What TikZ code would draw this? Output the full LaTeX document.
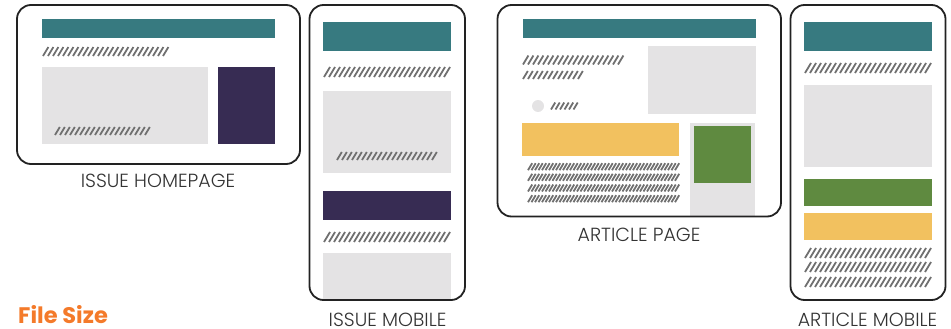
\documentclass[tikz,border=0pt]{standalone}
\usepackage{fontspec}
\setmainfont{Poppins}
\newfontfamily\labfont{Poppins Light}
\definecolor{teal1}{HTML}{377A80}
\definecolor{purp}{HTML}{372C53}
\definecolor{lgray}{HTML}{E4E3E4}
\definecolor{yel}{HTML}{F2C15F}
\definecolor{grn}{HTML}{5F8A40}
\definecolor{orng}{HTML}{F47A2A}
\definecolor{hatchc}{HTML}{707070}
\definecolor{framec}{HTML}{222222}
\definecolor{labc}{HTML}{333333}
\newcommand{\hatchrow}[5][5]{% [spacing] x1, x2, yc, h
  \pgfmathsetmacro{\hn}{int(floor((#3-#2)/#1))}
  \pgfmathsetmacro{\hyb}{#4+#5/2}
  \pgfmathsetmacro{\hyt}{#4-#5/2}
  \pgfmathsetmacro{\hdx}{0.6*#5}
  \foreach \hi in {0,...,\hn}{
    \pgfmathsetmacro{\hx}{#2+#1*\hi}
    \draw[hatchc, line width=1.8pt] (\hx,\hyb) -- (\hx+\hdx,\hyt);
  }}
\begin{document}
\begin{tikzpicture}[x=1pt,y=-1pt,
  frame/.style={draw=framec, line width=1.8pt, rounded corners=14pt},
  lab/.style={text=labc, font=\labfont\fontsize{19}{21}\selectfont, inner sep=0pt, anchor=base, text height=13pt, text depth=0pt}]
\useasboundingbox (0,0) rectangle (951,329);
% ---------- Issue homepage ----------
\fill[teal1] (42,19) rectangle (275,38);
\hatchrow{43}{163}{51.5}{9}
\fill[lgray] (42,67) rectangle (208,144);
\hatchrow{55}{149}{131}{8}
\fill[purp] (218,67) rectangle (275,144);
\draw[frame] (17,5) rectangle (300,164);
\node[lab] (lhome) at (158,187.3) {ISSUE HOMEPAGE};
% ---------- Issue mobile ----------
\fill[teal1] (323,22) rectangle (451,51);
\hatchrow{324}{445}{72}{10}
\fill[lgray] (323,91) rectangle (451,173);
\hatchrow{337}{432}{156}{8}
\fill[purp] (323,191) rectangle (451,220);
\hatchrow{324}{445}{237}{10}
\fill[lgray] (323,253) rectangle (451,299);
\draw[frame] (309.5,5) rectangle (465,300);
\node[lab] (lim) at (387.5,326) {ISSUE MOBILE};
% ---------- Article page ----------
\fill[teal1] (523,19) rectangle (755.5,38);
\hatchrow{523}{618}{60}{9}
\hatchrow{523}{579}{75}{8}
\fill[lgray] (538,106) circle (6);
\hatchrow[4.5]{551}{576}{106}{7}
\fill[lgray] (648,46) rectangle (755.5,113.5);
\fill[yel] (522,123) rectangle (679,155.5);
\fill[lgray] (690,123) rectangle (755,216);
\fill[grn] (694,126) rectangle (751,182.5);
\foreach \yy in {166.7,177.3,188,198.7}{\hatchrow[3.5]{528}{675}{\yy}{7}}
\draw[frame] (497.5,5) rectangle (781,216.5);
\node[lab] (lart) at (639,241) {ARTICLE PAGE};
% ---------- Article mobile ----------
\fill[teal1] (804,22) rectangle (932,51);
\hatchrow{805}{926}{68}{10}
\fill[lgray] (804,85) rectangle (932,166.7);
\fill[grn] (804,179) rectangle (932,206);
\fill[yel] (804,213) rectangle (932,240);
\foreach \yy in {253,267,282}{\hatchrow{805}{926}{\yy}{10}}
\draw[frame] (790.5,5) rectangle (945.5,300);
\node[lab] (lam) at (867.5,326) {ARTICLE MOBILE};
% ---------- File size ----------
\node[text=orng, font=\fontsize{22.5}{25}\selectfont\bfseries, inner sep=0pt, anchor=base west, text height=17pt, text depth=0pt] (fs) at (18,323.5) {File Size};
\end{tikzpicture}
\end{document}
